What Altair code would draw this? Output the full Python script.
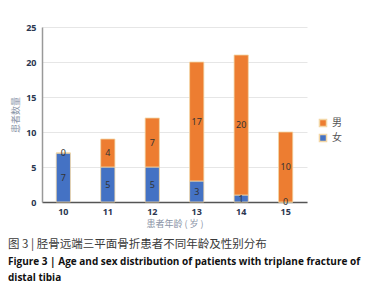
import altair as alt
import pandas as pd

ages = ["10", "11", "12", "13", "14", "15"]
female = [7, 5, 5, 3, 1, 0]
male = [0, 4, 7, 17, 20, 10]
sexes = ["男", "女"]
colors = ["#ED7D31", "#4472C4"]
y_ticks = [0, 5, 10, 15, 20, 25]

caption_cn = "图 3 | 胫骨远端三平面骨折患者不同年龄及性别分布"
caption_en1 = "Figure 3   |    Age and sex distribution of patients with triplane fracture of"
caption_en2 = "distal tibia"

rows = []
for a, f, m in zip(ages, female, male):
    rows.append({"age": a, "sex": "女", "count": f, "ord": 0})
    rows.append({"age": a, "sex": "男", "count": m, "ord": 1})
df = pd.DataFrame(rows)

base = alt.Chart(df).transform_stack(
    stack="count", groupby=["age"], sort=[alt.SortField("ord")], as_=["y0", "y1"]
).transform_calculate(mid="(datum.y0 + datum.y1) / 2")

xaxis = alt.Axis(
    title="患者年龄 ( 岁 )", labelAngle=0, labelFont="Noto Sans", labelFontSize=9,
    labelFontWeight="bold", labelColor="#2b3650", titleFont="Noto Sans CJK SC",
    titleFontSize=9, titleFontWeight="normal", titleColor="#8a94a6", titlePadding=3,
    domainColor="#555555", domainWidth=1.5, ticks=False, labelPadding=5,
)
yaxis = alt.Axis(
    values=y_ticks, labelOverlap=False, title="患者数量",
    titleFont="Noto Sans CJK SC", titleFontSize=9,
    titleFontWeight="normal", titleColor="#8a94a6", titlePadding=5,
    labelFont="Noto Sans", labelFontSize=9, labelFontWeight="bold",
    labelColor="#2b3650", gridColor="#e6e6e6", domainColor="#999999",
    domainWidth=1.5, ticks=False, labelPadding=6,
)
xscale = alt.Scale(paddingInner=0.68, paddingOuter=0.32)
yscale = alt.Scale(domain=[0, 25])

bars = base.mark_bar(stroke="#f3d7a6", strokeWidth=0.8).encode(
    x=alt.X("age:N", sort=ages, scale=xscale, axis=xaxis),
    y=alt.Y("y0:Q", scale=yscale, axis=yaxis),
    y2="y1:Q",
    color=alt.Color(
        "sex:N",
        scale=alt.Scale(domain=sexes, range=colors),
        legend=alt.Legend(
            title=None, orient="none", legendX=276, legendY=91, symbolType="square",
            symbolSize=50, labelFont="Noto Sans CJK SC", labelFontSize=10,
            labelColor="#555555", rowPadding=1,
        ),
    ),
)

labels = base.mark_text(font="Noto Sans", fontSize=9, color="#333333").encode(
    x=alt.X("age:N", sort=ages, scale=xscale, axis=xaxis),
    y=alt.Y("mid:Q", scale=yscale, axis=yaxis),
    text="count:Q",
)

cap1 = alt.Chart(pd.DataFrame({"t": [caption_cn]})).mark_text(
    align="left", baseline="middle", font="Noto Sans CJK SC", fontSize=11.5,
    color="#3a3a3a", fontWeight="normal",
).encode(x=alt.value(-34), y=alt.value(218), text="t:N")

cap2 = alt.Chart(pd.DataFrame({"t": [caption_en1]})).mark_text(
    align="left", baseline="middle", font="Open Sans", fontSize=10,
    color="#111111", fontWeight="bold",
).encode(x=alt.value(-34), y=alt.value(235), text="t:N")

cap3 = alt.Chart(pd.DataFrame({"t": [caption_en2]})).mark_text(
    align="left", baseline="middle", font="Open Sans", fontSize=10,
    color="#111111", fontWeight="bold",
).encode(x=alt.value(-34), y=alt.value(251), text="t:N")

chart = alt.layer(bars, labels, cap1, cap2, cap3).properties(
    width=265, height=175,
    autosize=alt.AutoSizeParams(type="none"),
    padding={"left": 34, "top": 19, "right": 67, "bottom": 90},
).configure_view(stroke=None)

chart.save("out.html", embed_options={"renderer": "svg", "actions": False})
